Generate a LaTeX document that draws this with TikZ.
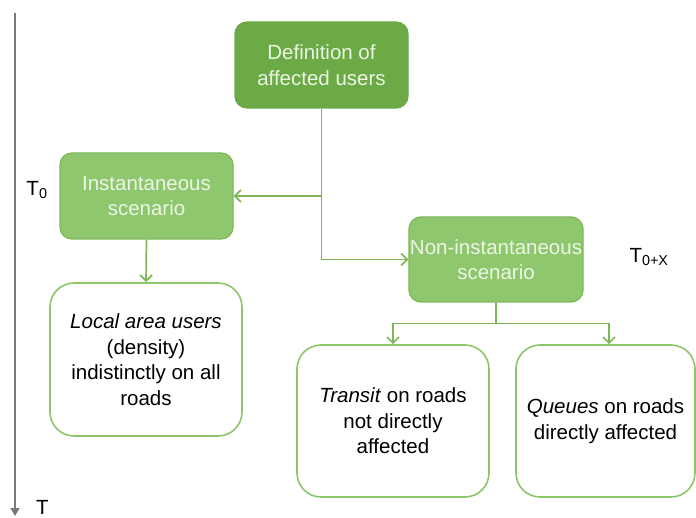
\documentclass[tikz,border=0pt]{standalone}
\usepackage{fontspec}
\setmainfont{Liberation Sans}
\usetikzlibrary{arrows.meta}
\usetikzlibrary{positioning}

\definecolor{darkgr}{RGB}{107,170,69}
\definecolor{lightgr}{RGB}{143,199,111}
\definecolor{linegr}{RGB}{125,184,88}
\definecolor{boxgr}{RGB}{141,197,108}
\definecolor{txtgr}{RGB}{235,246,228}
\definecolor{axisgr}{RGB}{120,120,120}

\tikzset{
  greenbox/.style={draw=linegr,fill=lightgr,rounded corners=12pt,line width=1.3pt,
    minimum width=173pt,minimum height=86pt,inner xsep=1pt,align=center,text=txtgr},
  whitebox/.style={draw=boxgr,fill=white,rounded corners=24pt,line width=1.6pt,
    minimum height=152pt,inner xsep=1pt,align=center,text=black},
  flow/.style={draw=linegr,line width=1.7pt,-{Straight Barb[length=6pt,width=12pt]}},
}

\begin{document}
\begin{tikzpicture}[x=1pt,y=-1pt,font=\fontsize{20.5}{25.5}\selectfont]
\useasboundingbox(0,0)rectangle(696,518);

\node[greenbox,fill=darkgr,draw=darkgr](DEF)at(321.5,65){Definition of\\affected users};
\node[greenbox](INST)at(146.5,196){Instantaneous\\scenario};
\node[greenbox,minimum width=170pt,minimum height=85pt](NONI)at(496,259.5){Non-instantaneous\\scenario};

\node[whitebox,minimum width=192pt,minimum height=153pt](LOC)at(146,359.5)
{\textit{Local area users}\\(density)\\indistinctly on all\\roads};
\node[whitebox,minimum width=192pt](TRA)at(393,421){\textit{Transit} on roads\\not directly\\affected};
\node[whitebox,minimum width=179pt](QUE)at(605.5,421){\textit{Queues} on roads\\directly affected};

%% connectors
\draw[flow](DEF.south)--(DEF.south|-INST.east)coordinate(V1)--(INST.east);
\draw[flow](V1)--(V1|-NONI.west)--(NONI.west);
\draw[flow](INST.south)--(LOC.north);
\draw[draw=linegr,line width=1.7pt](NONI.south)--++(0,21)coordinate(V2);
\draw[flow](V2)-|(TRA.north);
\draw[flow](V2)-|([xshift=3.5pt]QUE.north);

%% time axis
\coordinate(AX1)at(15,13);
\coordinate(AX2)at(15,516);
\draw[axisgr,line width=1.6pt,-{Triangle[length=8pt,width=9pt]}](AX1)--(AX2);
\node[anchor=west,inner sep=1pt](TT)at(35,507){T};
\node(T0)at(37,190){T\textsubscript{0}};
\node(T0X)at(649,257){T\textsubscript{0+X}};
\end{tikzpicture}
\end{document}
